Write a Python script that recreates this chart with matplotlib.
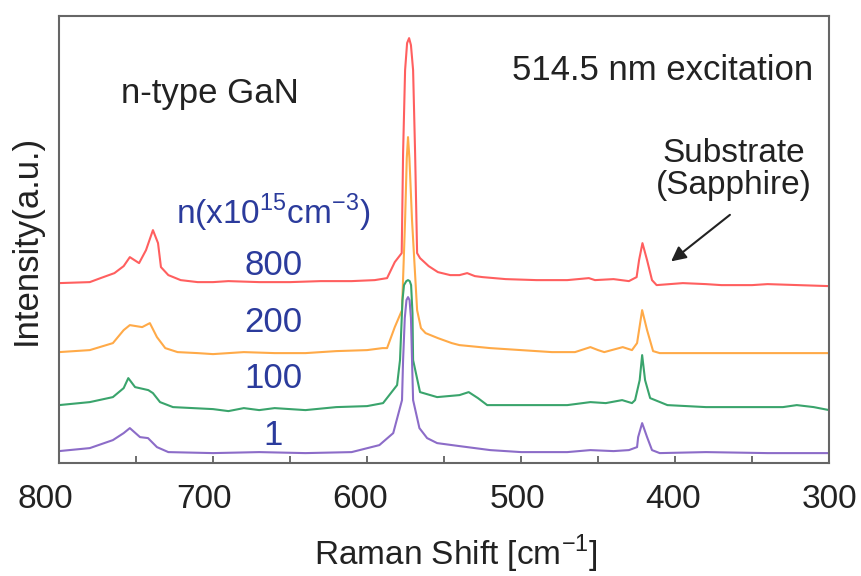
import matplotlib
matplotlib.use('Agg')
import matplotlib.pyplot as plt
from matplotlib.transforms import ScaledTranslation

plt.rcParams['font.family'] = 'Liberation Sans'
plt.rcParams['mathtext.fontset'] = 'custom'
plt.rcParams['mathtext.rm'] = 'Liberation Sans'

# spectra (already offset vertically, arbitrary units)
w_800 = [800, 780, 773, 764, 758, 754, 748, 743.5, 739, 735.7, 733.8, 729, 721, 710, 700, 690,
         670, 650, 630, 610, 595, 587, 582, 577.5, 576.6, 575.3, 574, 572.7, 571.5, 570.1,
         568.8, 567.5, 565.6, 560, 554, 546, 540, 535, 530, 525, 510, 490, 470, 456, 452,
         440, 430, 425, 423.4, 421.2, 418.2, 415, 412, 395, 380, 370, 350, 340, 320, 300]
i_800 = [1.80, 1.81, 1.85, 1.90, 1.97, 2.06, 2.00, 2.13, 2.33, 2.20, 1.96, 1.88, 1.83, 1.81,
         1.81, 1.82, 1.81, 1.81, 1.82, 1.82, 1.83, 1.85, 2.01, 2.10, 3.10, 3.93, 4.20, 4.25,
         4.18, 3.93, 3.10, 2.10, 2.05, 1.97, 1.91, 1.88, 1.88, 1.90, 1.87, 1.86, 1.84, 1.83,
         1.83, 1.85, 1.83, 1.84, 1.82, 1.86, 2.03, 2.20, 2.03, 1.83, 1.78, 1.80, 1.79, 1.78,
         1.78, 1.79, 1.78, 1.77]

w_200 = [800, 790, 780, 765, 758, 754, 750, 746, 741, 736.4, 731, 723, 710, 700, 680, 660,
         640, 620, 600, 590, 587, 582, 577.3, 575.3, 574.2, 573.4, 572.5, 570.8, 567.5, 565,
         562, 554, 545, 540, 520, 500, 480, 465, 455, 450, 446, 434, 428, 424.7, 423.4,
         421.4, 418.2, 414.3, 410, 380, 340, 300]
i_200 = [1.11, 1.12, 1.13, 1.20, 1.33, 1.38, 1.37, 1.36, 1.40, 1.26, 1.15, 1.11, 1.10, 1.09,
         1.11, 1.10, 1.10, 1.12, 1.13, 1.15, 1.15, 1.36, 1.53, 2.43, 3.05, 3.26, 3.05, 2.43,
         1.53, 1.35, 1.30, 1.25, 1.20, 1.18, 1.15, 1.13, 1.11, 1.11, 1.16, 1.13, 1.11, 1.16,
         1.13, 1.20, 1.33, 1.53, 1.33, 1.12, 1.10, 1.10, 1.10, 1.10]

w_100 = [800, 780, 765, 758, 755, 750.6, 742, 739, 734.4, 726, 700, 690, 680, 670, 660, 640,
         620, 600, 589.6, 580.5, 578.6, 577, 576, 574.5, 573.4, 572.3, 571.4, 570.5, 570.1,
         565.6, 554.5, 540, 534, 528, 522, 500, 470, 455, 445, 434.4, 428, 426, 423, 421.4,
         419.5, 416.2, 405, 380, 350, 330, 321, 310, 300]
i_100 = [0.58, 0.61, 0.66, 0.75, 0.85, 0.76, 0.73, 0.70, 0.61, 0.56, 0.54, 0.52, 0.55, 0.53,
         0.55, 0.53, 0.56, 0.57, 0.60, 0.78, 1.03, 1.63, 1.78, 1.82, 1.83, 1.82, 1.78, 1.50,
         1.03, 0.71, 0.66, 0.68, 0.71, 0.65, 0.58, 0.58, 0.58, 0.61, 0.60, 0.63, 0.60, 0.63,
         0.83, 1.08, 0.83, 0.65, 0.58, 0.56, 0.56, 0.56, 0.58, 0.56, 0.53]

w_1 = [800, 780, 765, 758, 754, 747.4, 742.2, 736.4, 729, 700, 670, 640, 610, 592, 583,
       577.3, 576.6, 575.5, 574.4, 573.4, 572.4, 571.5, 570.8, 570.1, 566, 561, 554.5,
       540, 520, 500, 470, 455, 440, 430, 424.7, 424, 421.4, 418.2, 415, 410, 380, 340, 300]
i_1 = [0.12, 0.15, 0.23, 0.30, 0.35, 0.26, 0.25, 0.16, 0.11, 0.10, 0.11, 0.10, 0.11, 0.18,
       0.30, 0.63, 1.03, 1.45, 1.63, 1.66, 1.63, 1.45, 1.03, 0.63, 0.35, 0.25, 0.20, 0.17,
       0.13, 0.11, 0.11, 0.13, 0.12, 0.13, 0.16, 0.26, 0.40, 0.26, 0.13, 0.10, 0.11, 0.10,
       0.10]

labels = ['800', '200', '100', '1']
label_y = [1.98, 1.41, 0.85, 0.28]
colors = ['#ff5f5f', '#ffaa48', '#3aa46c', '#8c6cc8']

fig = plt.figure(figsize=(8.61, 5.76), dpi=100)
ax = fig.add_axes([0.0685, 0.196, 0.8945, 0.776])

for w, i, c in zip([w_800, w_200, w_100, w_1], [i_800, i_200, i_100, i_1], colors):
    ax.plot(w, i, color=c, lw=1.5, solid_joinstyle='round')

blue = '#2b3b9c'
for lab, y in zip(labels, label_y):
    ax.text(661, y, lab, color=blue, fontsize=25, ha='center', va='center')
ax.text(661, 2.50, r'n(x10$^{\mathregular{15}}$cm$^{\mathregular{-3}}$)', color=blue,
        fontsize=24, ha='center', va='center')

ax.text(702, 3.70, 'n-type GaN', fontsize=25, ha='center', va='center', color='#222222')
ax.text(408, 3.93, '514.5 nm excitation', fontsize=25, ha='center', va='center', color='#222222')
ax.text(362, 2.94, 'Substrate\n(Sapphire)', fontsize=24, ha='center', va='center',
        color='#222222', linespacing=1.05)
ax.annotate('', xy=(404, 2.00), xytext=(363, 2.50),
            arrowprops=dict(arrowstyle='-|>', color='#222222', lw=1.5, mutation_scale=22))

ax.set_xlim(800, 300)
ax.set_ylim(0, 4.47)
ax.set_xticks([800, 700, 600, 500, 400, 300])
ax.set_xticks([750, 650, 550, 450, 350], minor=True)
ax.tick_params(axis='x', which='both', direction='in', length=5, width=1.2, colors='#555555',
               labelcolor='#222222', labelsize=24, pad=15)
ax.set_yticks([])
for s in ax.spines.values():
    s.set_color('#666666')
    s.set_linewidth(1.5)

# labels in the original sit a little left of their ticks
for lab, dx in zip(ax.get_xticklabels(), [-14, -9, -7, -4, -2, 0]):
    lab.set_transform(lab.get_transform() + ScaledTranslation(dx / 100, 0, fig.dpi_scale_trans))

ax.set_xlabel(r'Raman Shift [cm$^{\mathregular{-1}}$]', fontsize=24, color='#222222', labelpad=13)
ax.xaxis.label.set_x(0.515)
ax.set_ylabel('Intensity(a.u.)', fontsize=25, color='#222222', labelpad=12)

fig.savefig('out.png', dpi=100)
